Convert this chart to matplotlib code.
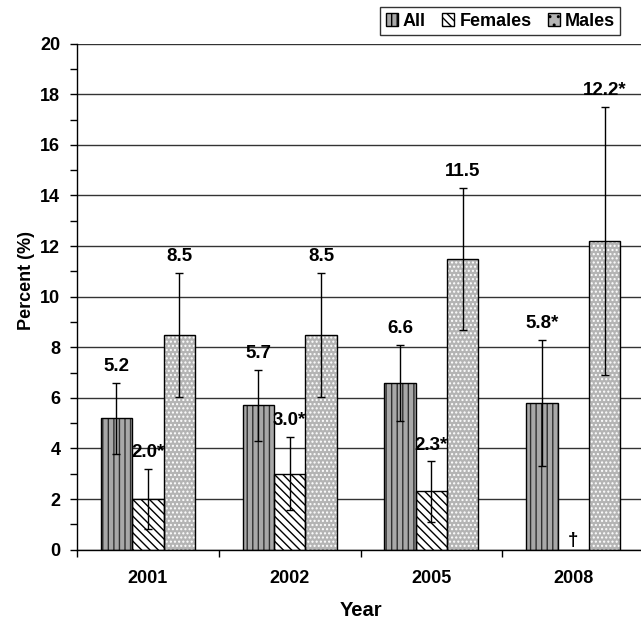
import numpy as np
import matplotlib
matplotlib.use("Agg")
import matplotlib.pyplot as plt
from matplotlib.patches import Patch

plt.rcParams['font.family'] = ['Liberation Sans', 'DejaVu Sans']
plt.rcParams['font.weight'] = 'bold'
plt.rcParams['hatch.linewidth'] = 1.0

years = ['2001', '2002', '2005', '2008']
series = ['All', 'Females', 'Males']

all_vals = [5.2, 5.7, 6.6, 5.8]
all_err = [1.4, 1.4, 1.5, 2.5]
all_labels = ['5.2', '5.7', '6.6', '5.8*']

fem_vals = [2.0, 3.0, 2.3, 0.0]
fem_err = [1.2, 1.45, 1.2, 0.0]
fem_labels = ['2.0*', '3.0*', '2.3*', '\u2020']

male_vals = [8.5, 8.5, 11.5, 12.2]
male_err = [2.45, 2.45, 2.8, 5.3]
male_labels = ['8.5', '8.5', '11.5', '12.2*']

fig = plt.figure(figsize=(6.41, 6.2), dpi=100)
ax = fig.add_axes([0.12, 0.1135, 0.885, 0.816])

x = np.arange(len(years))
w = 0.221

styles = [
    ('#a8a8a8', '#303030', '|||'),
    ('white', 'black', '\\\\\\\\'),
    ('#b4b4b4', 'white', '....'),
]
data = [(all_vals, all_err, all_labels), (fem_vals, fem_err, fem_labels),
        (male_vals, male_err, male_labels)]

ax.set_axisbelow(True)
ax.yaxis.grid(True, color='#333333', linewidth=1)

for i, ((vals, errs, labs), (fc, hc, hatch)) in enumerate(zip(data, styles)):
    xs = x + (i - 1) * w
    ax.bar(xs, vals, w, color=fc, edgecolor=hc, hatch=hatch, linewidth=0, zorder=2)
    ax.bar(xs, vals, w, color='none', edgecolor='black', linewidth=1, zorder=3)
    for xi, v, e, lab in zip(xs, vals, errs, labs):
        if v > 0:
            ax.errorbar(xi, v, yerr=e, color='black', linewidth=1, capsize=3,
                        capthick=1, zorder=4)
            ax.text(xi, v + e + 0.3, lab, ha='center', va='bottom',
                    fontsize=13.5, fontweight='bold', zorder=5)
        else:
            ax.text(xi, 0.2, lab, ha='center', va='baseline',
                    fontsize=13.5, fontweight='bold', zorder=5)

ax.set_xlim(-0.5, 3.5)
ax.set_ylim(0, 20)
ax.set_xticks(x)
ax.set_xticklabels(years, fontsize=13, fontweight='bold')
ax.set_xticks(np.arange(-0.5, 4.0, 1.0), minor=True)
ax.tick_params(axis='x', which='major', length=0, pad=15)
ax.tick_params(axis='x', which='minor', length=5, width=1, color='black')
ax.set_yticks(np.arange(0, 21, 2))
ax.set_yticks(np.arange(1, 20, 2), minor=True)
ax.tick_params(axis='y', which='both', length=5, width=1, labelsize=13, pad=7)
for lab in ax.get_yticklabels():
    lab.set_fontweight('bold')

for s in ['top', 'right']:
    ax.spines[s].set_visible(False)
ax.spines['left'].set_linewidth(1)
ax.spines['bottom'].set_linewidth(1)

ax.set_ylabel('Percent (%)', fontsize=13, fontweight='bold')
ax.yaxis.set_label_coords(-0.074, 0.531)
ax.set_xlabel('Year', fontsize=14.5, fontweight='bold')
ax.xaxis.set_label_coords(0.5, -0.102)

handles = [Patch(facecolor=fc, edgecolor='black', hatch=h, label=s)
           for (fc, hc, h), s in zip(styles, series)]
handles[2] = Patch(facecolor='#b4b4b4', edgecolor='black', hatch='..', label='Males')
leg = fig.legend(handles=handles, loc='upper right', bbox_to_anchor=(0.968, 0.988),
                 ncol=3, frameon=True, fancybox=False, edgecolor='black',
                 handlelength=0.65, handleheight=0.65,
                 handletextpad=0.3, columnspacing=0.9, borderpad=0.3,
                 borderaxespad=0.0, prop={'weight': 'bold', 'size': 13})
leg.get_frame().set_linewidth(1)

fig.savefig('out.png', dpi=100)
